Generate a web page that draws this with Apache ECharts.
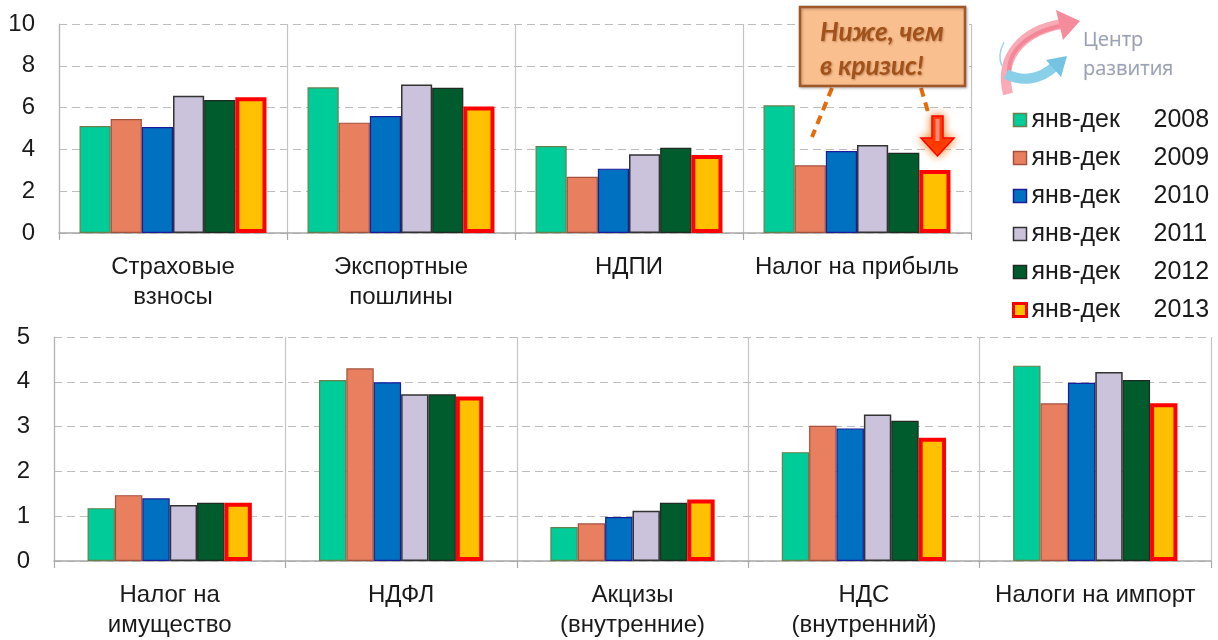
<!DOCTYPE html>
<html>
<head>
<meta charset="utf-8">
<script src="https://cdn.jsdelivr.net/npm/echarts@6/dist/echarts.min.js"></script>
<style>
html,body{margin:0;padding:0;background:#fff;}
#c{width:1218px;height:640px;}
</style>
</head>
<body>
<div id="c"></div>
<script>
// ---- data ----
const years = ['2008', '2009', '2010', '2011', '2012', '2013'];
const topCats = ['Страховые\nвзносы', 'Экспортные\nпошлины', 'НДПИ', 'Налог на прибыль'];
const bottomCats = ['Налог на\nимущество', 'НДФЛ', 'Акцизы\n(внутренние)', 'НДС\n(внутренний)', 'Налоги на импорт'];
const topTicks = [0, 2, 4, 6, 8, 10];
const bottomTicks = [0, 1, 2, 3, 4, 5];

const top2008 = [5.12, 6.97, 4.16, 6.11];
const top2009 = [5.45, 5.28, 2.69, 3.24];
const top2010 = [5.07, 5.60, 3.08, 3.92];
const top2011 = [6.57, 7.10, 3.77, 4.21];
const top2012 = [6.36, 6.95, 4.08, 3.84];
const top2013 = [6.50, 6.05, 3.73, 3.01];

const bot2008 = [1.18, 4.04, 0.76, 2.43, 4.36];
const bot2009 = [1.47, 4.30, 0.84, 3.02, 3.52];
const bot2010 = [1.40, 3.99, 0.98, 2.96, 3.98];
const bot2011 = [1.25, 3.72, 1.12, 3.27, 4.22];
const bot2012 = [1.30, 3.72, 1.30, 3.13, 4.04];
const bot2013 = [1.30, 3.67, 1.37, 2.75, 3.52];

const legendPrefix = 'янв-дек';
const calloutLines = ['Ниже, чем', 'в кризис!'];
const logoLines = ['Центр', 'развития'];

// ---- styles ----
const topData = [top2008, top2009, top2010, top2011, top2012, top2013];
const botData = [bot2008, bot2009, bot2010, bot2011, bot2012, bot2013];
const fills = ['#00CC99', '#E8805F', '#0070C0', '#CBC2DB', '#005C2C', '#FFC000'];
const borders = ['#6A7F4C', '#A4503D', '#1A1C9A', '#333333', '#1E2A22', '#FF0000'];
const bw = [1.2, 1.2, 1.2, 1.5, 1.2, 4];
const FONT = '"Liberation Sans", Arial, sans-serif';

const chart = echarts.init(document.getElementById('c'), null, {renderer: 'canvas'});

function yAxis(gridIndex, ticks) {
  const interval = ticks[1] - ticks[0];
  return {
    type: 'value', gridIndex: gridIndex, min: ticks[0], max: ticks[ticks.length - 1], interval: interval,
    axisLine: {show: true, lineStyle: {color: '#B4B4B4', width: 1.2}},
    axisTick: {show: false},
    axisLabel: {fontSize: 24, color: '#1a1a1a', fontFamily: FONT, margin: 24},
    splitLine: {show: true, lineStyle: {color: '#BDBDBD', type: [8, 5], width: 1.2}}
  };
}
function xAxis(gridIndex, cats) {
  return {
    type: 'category', gridIndex: gridIndex, data: cats,
    axisLine: {show: true, lineStyle: {color: '#A8A8A8', width: 1.5}},
    axisTick: {show: true, length: 7, lineStyle: {color: '#A8A8A8', width: 1.2}},
    axisLabel: {fontSize: 24, color: '#1a1a1a', fontFamily: FONT, margin: 19, lineHeight: 30, interval: 0},
    splitLine: {show: true, lineStyle: {color: '#C4C4C4', width: 1.2}}
  };
}

const series = [];
years.forEach((y, i) => {
  const style = {color: fills[i], borderColor: borders[i], borderWidth: bw[i]};
  series.push({
    name: y, type: 'bar', xAxisIndex: 0, yAxisIndex: 0, data: topData[i],
    itemStyle: style, barGap: '0%', barCategoryGap: '18%', z: i === 5 ? 3 : 2
  });
  series.push({
    name: y, type: 'bar', xAxisIndex: 1, yAxisIndex: 1, data: botData[i],
    itemStyle: style, barGap: '0%', barCategoryGap: '29%', z: i === 5 ? 3 : 2
  });
});

const legendData = years.map((y, i) => ({
  name: y,
  itemStyle: {color: fills[i], borderColor: borders[i], borderWidth: i === 5 ? 3 : 1.5}
}));

const calloutColor = '#A2521A';
const calloutFont = 'italic bold 26px Lato, "Open Sans", sans-serif';
const option = {
  animation: false,
  backgroundColor: '#ffffff',
  grid: [
    {left: 59, right: 247, top: 24, bottom: 407, containLabel: false},
    {left: 54, right: 7, top: 337, bottom: 78, containLabel: false}
  ],
  xAxis: [xAxis(0, topCats), xAxis(1, bottomCats)],
  yAxis: [yAxis(0, topTicks), yAxis(1, bottomTicks)],
  legend: {
    orient: 'vertical', left: 1007, top: 101,
    itemWidth: 13, itemHeight: 13, itemGap: 10,
    icon: 'rect',
    data: legendData,
    formatter: function (n) { return '{a|' + legendPrefix + '}{b|' + n + '}'; },
    textStyle: {
      fontFamily: FONT, fontSize: 25, color: '#1a1a1a', lineHeight: 28,
      rich: {
        a: {width: 122, fontSize: 25, fontFamily: FONT, color: '#1a1a1a', lineHeight: 28},
        b: {fontSize: 25, fontFamily: FONT, color: '#1a1a1a', lineHeight: 28}
      }
    },
    selectedMode: false
  },
  series: series,
  graphic: [
    // callout dashed connectors
    {type: 'line', z: 10, shape: {x1: 832, y1: 88, x2: 812, y2: 137},
      style: {stroke: '#E46C0A', lineWidth: 4, lineDash: [9, 6]}},
    {type: 'line', z: 10, shape: {x1: 921, y1: 88, x2: 928, y2: 112},
      style: {stroke: '#E46C0A', lineWidth: 4, lineDash: [9, 6]}},
    // callout box
    {type: 'rect', z: 11, shape: {x: 800, y: 7, width: 165, height: 79},
      style: {fill: '#FABF8F', stroke: '#A0582A', lineWidth: 2.5,
        shadowBlur: 3, shadowColor: 'rgba(0,0,0,0.25)', shadowOffsetX: 1, shadowOffsetY: 1}},
    {type: 'text', z: 12, x: 820, y: 33,
      style: {text: calloutLines[0], fill: calloutColor, font: calloutFont, verticalAlign: 'middle',
        textShadowColor: 'rgba(90,40,0,0.35)', textShadowBlur: 2, textShadowOffsetX: 1, textShadowOffsetY: 1}},
    {type: 'text', z: 12, x: 820, y: 67,
      style: {text: calloutLines[1], fill: calloutColor, font: calloutFont, verticalAlign: 'middle',
        textShadowColor: 'rgba(90,40,0,0.35)', textShadowBlur: 2, textShadowOffsetX: 1, textShadowOffsetY: 1}},
    // red down arrow
    {type: 'polygon', z: 12,
      shape: {points: [[932, 116], [943, 116], [943, 138], [954, 138], [937.5, 156], [921, 138], [932, 138]]},
      style: {fill: '#FF3300', stroke: '#FF0000', lineWidth: 1.5,
        shadowBlur: 9, shadowColor: 'rgba(240,120,20,0.95)'}},
    {type: 'rect', z: 13, shape: {x: 935.5, y: 119, width: 4, height: 22},
      style: {fill: '#FF8C7A'}},
    // logo: pink arc with arrow
    {type: 'bezierCurve', z: 5,
      shape: {x1: 1008, y1: 94, cpx1: 998, cpy1: 55, cpx2: 1025, cpy2: 30, x2: 1062, y2: 24},
      style: {stroke: '#F7A1AE', lineWidth: 10, fill: null, lineCap: 'butt', opacity: 0.9}},
    {type: 'bezierCurve', z: 5,
      shape: {x1: 1010, y1: 80, cpx1: 1004, cpy1: 52, cpx2: 1027, cpy2: 33, x2: 1060, y2: 26},
      style: {stroke: '#F27D90', lineWidth: 4, fill: null, opacity: 0.8}},
    {type: 'polygon', z: 5, shape: {points: [[1056, 10], [1080, 21], [1063, 40]]},
      style: {fill: '#F48C9C'}},
    // logo: blue arrow
    {type: 'bezierCurve', z: 6,
      shape: {x1: 1006, y1: 74, cpx1: 1022, cpy1: 82, cpx2: 1040, cpy2: 80, x2: 1055, y2: 66},
      style: {stroke: '#8ACFE8', lineWidth: 10, fill: null, lineCap: 'butt'}},
    {type: 'polygon', z: 6, shape: {points: [[1046, 60], [1067, 56], [1061, 77]]},
      style: {fill: '#74C3E2'}},
    {type: 'bezierCurve', z: 6,
      shape: {x1: 1004, y1: 42, cpx1: 999, cpy1: 52, cpx2: 999, cpy2: 60, x2: 1002, y2: 66},
      style: {stroke: '#9FD3EA', lineWidth: 1.5, fill: null}},
    {type: 'text', z: 6, x: 1083, y: 40,
      style: {text: logoLines[0], fill: '#97A3BD', font: '20px "Open Sans", "Liberation Sans", sans-serif',
        verticalAlign: 'middle', stroke: 'rgba(220,170,120,0.35)', lineWidth: 0.6}},
    {type: 'text', z: 6, x: 1083, y: 69,
      style: {text: logoLines[1], fill: '#97A3BD', font: '20px "Open Sans", "Liberation Sans", sans-serif',
        verticalAlign: 'middle', stroke: 'rgba(220,170,120,0.35)', lineWidth: 0.6}}
  ]
};
chart.setOption(option);
</script>
</body>
</html>
